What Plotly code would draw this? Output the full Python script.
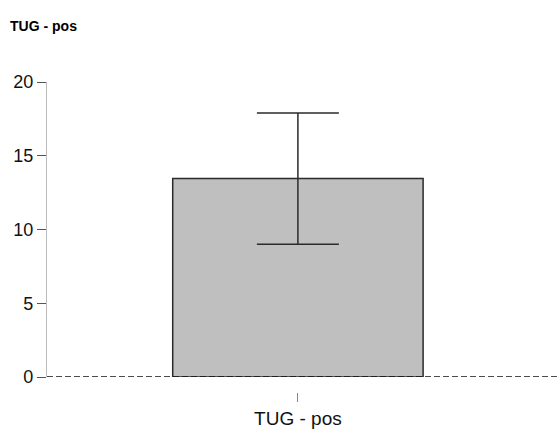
import plotly.graph_objects as go

categories = ["TUG - pos"]
means = [13.45]
errors = [4.45]
y_ticks = [0, 5, 10, 15, 20]

fig = go.Figure()

fig.add_trace(go.Bar(
    x=categories,
    y=means,
    width=0.49,
    marker=dict(color="#bfbfbf", line=dict(color="#2b2b2b", width=1.5)),
    error_y=dict(type="data", array=errors, visible=True,
                 color="#2b2b2b", thickness=1.5, width=41),
    showlegend=False,
))

# dashed reference line at zero
fig.add_hline(y=0, line=dict(color="#111111", width=1.5, dash="6px,3px"))

fig.update_layout(
    width=558,
    height=432,
    margin=dict(l=47, r=0, t=82, b=40),
    plot_bgcolor="white",
    paper_bgcolor="white",
    font=dict(family="Liberation Sans, Arial", size=18, color="#111111"),
    title=dict(text="<b>TUG - pos</b>", x=0.018, xref="container", xanchor="left",
               y=0.94, yref="container", yanchor="middle",
               font=dict(size=14, color="black")),
    xaxis=dict(
        anchor="free", position=0,
        range=[-0.491, 0.509],
        showline=False, showgrid=False, zeroline=False,
        ticks="outside", ticklen=9, tickcolor="#888888", tickwidth=1,
        tickfont=dict(size=19),
    ),
    yaxis=dict(
        domain=[0.0484, 1],
        range=[0, 20],
        tickvals=y_ticks,
        showline=True, linecolor="#bbbbbb", linewidth=1.2,
        showgrid=False, zeroline=False,
        ticks="outside", ticklen=9, tickcolor="#555555", tickwidth=1,
    ),
)

fig.write_html("out.html", config={"displayModeBar": False},
               post_script="document.body.style.margin='0';")
